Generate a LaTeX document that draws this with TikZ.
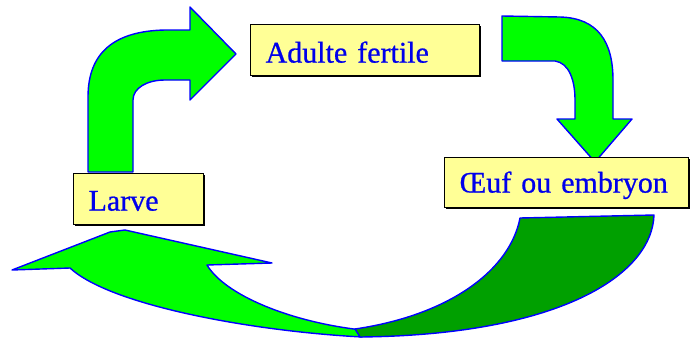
\documentclass[tikz,border=0pt]{standalone}
\usepackage{fontspec}
\setmainfont{Liberation Serif}
\newfontfamily\stagefont{Liberation Serif}[FakeBold=0.7]
\usetikzlibrary{shadows}
\definecolor{arrowgreen}{RGB}{0,255,0}
\definecolor{arrowdark}{RGB}{0,160,0}
\definecolor{edgeblue}{RGB}{0,0,255}
\definecolor{labelfill}{RGB}{255,255,150}
\definecolor{labelblue}{RGB}{0,0,235}
\tikzset{
  cycleshape/.style={fill=arrowgreen, draw=edgeblue, line width=1.4pt, line join=round},
  backshape/.style={cycleshape, fill=arrowdark},
  stagebox/.style={draw=black, line width=1.2pt, fill=labelfill, anchor=north west,
    font=\stagefont\fontsize{30}{36}\selectfont, text=labelblue, align=left,
    inner ysep=0pt, inner xsep=15pt,
    drop shadow={shadow xshift=1.5pt, shadow yshift=-1.5pt, fill=black, opacity=1}}
}
\begin{document}
\begin{tikzpicture}[x=1pt,y=-1pt]
\useasboundingbox (0,0) rectangle (691,338);

% bent arrow from the larva up to the adult
\draw[cycleshape] (88,172) -- (88,97) .. controls (88,52) and (115,31) .. (165,30)
  -- (190,30) -- (190,7) -- (236,54) -- (190,100) -- (190,80) -- (165,80)
  .. controls (147,80) and (133,88) .. (133,100) -- (133,172) -- cycle;

% bent arrow from the adult down to the egg
\draw[cycleshape] (502,16) -- (560,17) .. controls (598,18) and (613,42) .. (613,80)
  -- (613,119) -- (632,119) -- (595,162) -- (557,119) -- (575,119) -- (575,100)
  .. controls (575,80) and (569,63) .. (555,61) -- (502,61) -- cycle;

% curved ribbon arrow from the egg back to the larva: front face
\draw[cycleshape] (362,337) .. controls (250,331) and (110,305) .. (70,268)
  -- (12,270) -- (110,232) -- (125,230) -- (272,263) -- (207,265)
  .. controls (225,295) and (290,322) .. (362,330) -- cycle;
% back face of the ribbon
\draw[backshape] (520,218) -- (654,215) .. controls (652,275) and (560,335) .. (360,337)
  -- (355,329) .. controls (450,315) and (510,270) .. cycle;

% stage labels
\node[stagebox, text width=199pt, text height=38pt, text depth=13pt] (adult) at (250,24) {Adulte fertile};
\node[stagebox, text width=100pt, text height=37pt, text depth=14pt] (larva) at (73,173) {Larve};
\node[stagebox, text width=214pt, text height=35pt, text depth=15pt] (egg) at (444,157) {Œuf ou embryon};
\end{tikzpicture}
\end{document}
